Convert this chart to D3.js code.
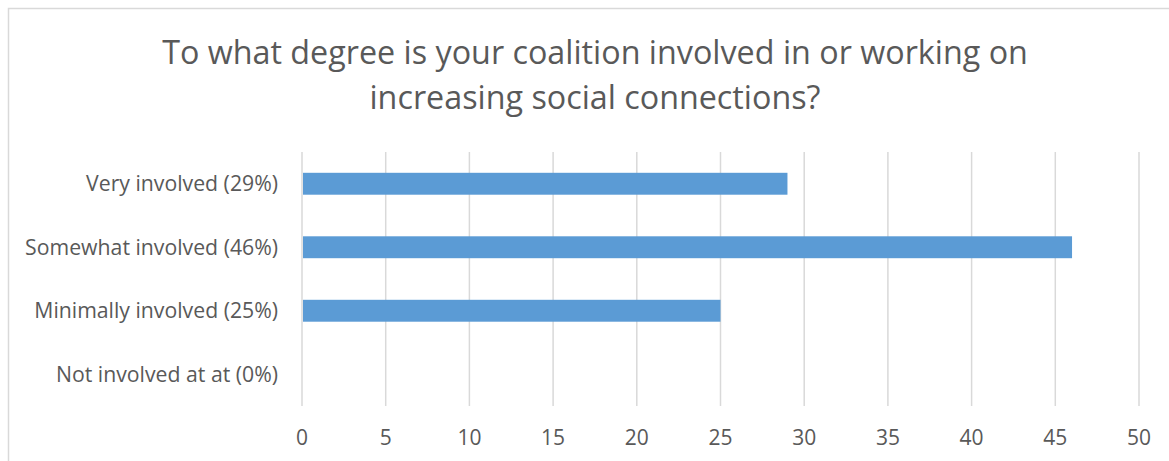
<!DOCTYPE html>
<html>
<head>
<meta charset="utf-8">
<script src="https://cdn.jsdelivr.net/npm/d3@7"></script>
<style>
  body { margin: 0; background: #fff; }
  text { font-family: "Open Sans", "Liberation Sans", sans-serif; fill: #595959; }
</style>
</head>
<body>
<svg id="chart"></svg>
<script>
// Data
const categories = ["Very involved (29%)", "Somewhat involved (46%)", "Minimally involved (25%)", "Not involved at at (0%)"];
const values = [29, 46, 25, 0];
const tickValues = [0, 5, 10, 15, 20, 25, 30, 35, 40, 45, 50];
const titleLines = ["To what degree is your coalition involved in or working on", "increasing social connections?"];

const width = 1169, height = 461;
const margin = { top: 152, right: 30, bottom: 55, left: 302 };

const svg = d3.select("#chart")
    .attr("width", width)
    .attr("height", height);

// Chart border (runs off the right and bottom of the picture)
svg.append("rect")
    .attr("x", 8.5)
    .attr("y", 8.5)
    .attr("width", 1180)
    .attr("height", 470)
    .attr("fill", "white")
    .attr("stroke", "#d9d9d9")
    .attr("stroke-width", 1.5);

// Fit a text element to a given width by scaling its font size
function fitWidth(sel, target) {
  sel.each(function() {
    let el = d3.select(this);
    let fs = parseFloat(el.attr("font-size"));
    let w = this.getComputedTextLength();
    el.attr("font-size", (fs * target / w).toFixed(2));
  });
}

// Title
const title = svg.append("g");
title.selectAll("text")
    .data(titleLines)
  .join("text")
    .attr("x", 595)
    .attr("y", (d, i) => 64 + i * 45)
    .attr("text-anchor", "middle")
    .attr("font-size", 30)
    .attr("fill", "#4d4d4d")
    .text(d => d);
fitWidth(title.select("text"), 866);
title.selectAll("text").attr("font-size", title.select("text").attr("font-size"));

const x = d3.scaleLinear()
    .domain([0, 50])
    .range([margin.left, 1139]);

const y = d3.scaleBand()
    .domain(categories)
    .range([margin.top, 406])
    .paddingInner(0.655)
    .paddingOuter(0.3275);

// Gridlines
svg.append("g")
    .selectAll("line")
    .data(tickValues)
  .join("line")
    .attr("x1", d => x(d))
    .attr("x2", d => x(d))
    .attr("y1", margin.top)
    .attr("y2", 406)
    .attr("stroke", "#d9d9d9")
    .attr("stroke-width", 1.5);

// Bars
svg.append("g")
    .selectAll("rect")
    .data(values)
  .join("rect")
    .attr("x", x(0) + 1)
    .attr("y", (d, i) => y(categories[i]))
    .attr("width", d => Math.max(0, x(d) - x(0) - 1))
    .attr("height", y.bandwidth())
    .attr("fill", "#5b9bd5");

// Category labels
const catLabels = svg.append("g")
    .selectAll("text")
    .data(categories)
  .join("text")
    .attr("x", 278)
    .attr("y", d => y(d) + y.bandwidth() / 2)
    .attr("dy", "0.35em")
    .attr("text-anchor", "end")
    .attr("font-size", 20)
    .text(d => d);
fitWidth(d3.select(catLabels.nodes()[0]), 192);
catLabels.attr("font-size", d3.select(catLabels.nodes()[0]).attr("font-size"));

// Value axis labels
svg.append("g")
    .selectAll("text")
    .data(tickValues)
  .join("text")
    .attr("x", d => x(d))
    .attr("y", 445)
    .attr("text-anchor", "middle")
    .attr("font-size", 21)
    .text(d => d);
</script>
</body>
</html>
